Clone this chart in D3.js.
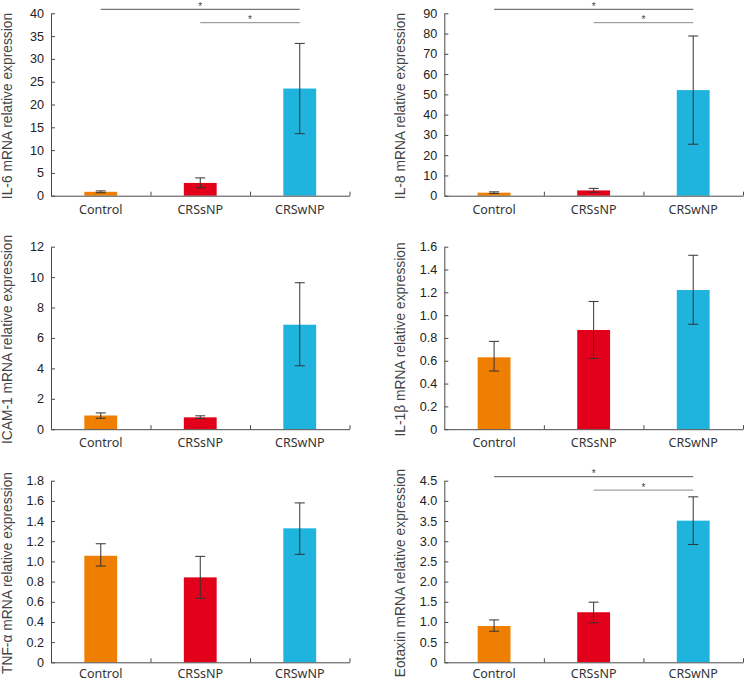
<!DOCTYPE html>
<html>
<head>
<meta charset="utf-8">
<script src="https://cdn.jsdelivr.net/npm/d3@7/dist/d3.min.js"></script>
<style>
  body { margin: 0; background: #fff; }
  svg { display: block; }
</style>
</head>
<body>
<svg id="chart" width="745" height="682"></svg>
<script>
// ---------- DATA ----------
const categories = ["Control", "CRSsNP", "CRSwNP"];
const barColors = ["#EF7F00", "#E2001A", "#1FB4DE"];

const titles = [
  "IL-6 mRNA relative expression",
  "IL-8 mRNA relative expression",
  "ICAM-1 mRNA relative expression",
  "IL-1\u03B2 mRNA relative expression",
  "TNF-\u03B1 mRNA relative expression",
  "Eotaxin mRNA relative expression"
];

const il6Mean = [0.85, 2.8, 23.5];
const il6Lo   = [0.65, 1.75, 13.6];
const il6Hi   = [1.05, 3.9, 33.4];

const il8Mean = [1.5, 2.6, 52.1];
const il8Lo   = [1.1, 1.7, 25.4];
const il8Hi   = [1.9, 3.6, 78.8];

const icamMean = [0.9, 0.78, 6.87];
const icamLo   = [0.72, 0.7, 4.17];
const icamHi   = [1.07, 0.88, 9.63];

const il1bMean = [0.63, 0.87, 1.22];
const il1bLo   = [0.51, 0.62, 0.92];
const il1bHi   = [0.77, 1.12, 1.525];

const tnfMean = [1.056, 0.842, 1.328];
const tnfLo   = [0.954, 0.634, 1.07];
const tnfHi   = [1.175, 1.05, 1.58];

const eotMean = [0.9, 1.24, 3.51];
const eotLo   = [0.77, 0.98, 2.92];
const eotHi   = [1.05, 1.49, 4.10];

const il6Ticks  = [0, 5, 10, 15, 20, 25, 30, 35, 40];
const il8Ticks  = [0, 10, 20, 30, 40, 50, 60, 70, 80, 90];
const icamTicks = [0, 2, 4, 6, 8, 10, 12];
const il1bTicks = [0, 0.2, 0.4, 0.6, 0.8, 1.0, 1.2, 1.4, 1.6];
const tnfTicks  = [0, 0.2, 0.4, 0.6, 0.8, 1.0, 1.2, 1.4, 1.6, 1.8];
const eotTicks  = [0, 0.5, 1.0, 1.5, 2.0, 2.5, 3.0, 3.5, 4.0, 4.5];

// significance brackets: [fromIndex, toIndex]
const il6Sig = [[0, 2], [1, 2]];
const il8Sig = [[0, 2], [1, 2]];
const eotSig = [[0, 2], [1, 2]];

// ---------- LAYOUT ----------
const cols = [[51, 349.5], [444.3, 743]];
const rows = [[13.3, 195.7], [246.7, 429.2], [480.7, 662.3]];
const labelPad = [9, 9, 7];

const panels = [
  { t: titles[0], m: il6Mean, lo: il6Lo, hi: il6Hi, ticks: il6Ticks, dec: 0, sig: il6Sig, c: 0, r: 0 },
  { t: titles[1], m: il8Mean, lo: il8Lo, hi: il8Hi, ticks: il8Ticks, dec: 0, sig: il8Sig, c: 1, r: 0 },
  { t: titles[2], m: icamMean, lo: icamLo, hi: icamHi, ticks: icamTicks, dec: 0, sig: [], c: 0, r: 1 },
  { t: titles[3], m: il1bMean, lo: il1bLo, hi: il1bHi, ticks: il1bTicks, dec: 1, sig: [], c: 1, r: 1 },
  { t: titles[4], m: tnfMean, lo: tnfLo, hi: tnfHi, ticks: tnfTicks, dec: 1, sig: [], c: 0, r: 2 },
  { t: titles[5], m: eotMean, lo: eotLo, hi: eotHi, ticks: eotTicks, dec: 1, sig: eotSig, c: 1, r: 2 }
];

const svg = d3.select("#chart");
const axisColor = "#4a4a4a";

panels.forEach(p => {
  const [x0, x1] = cols[p.c];
  const [yTop, yBot] = rows[p.r];
  const g = svg.append("g");

  const x = d3.scaleBand().domain(categories).range([x0, x1]).padding(0);
  const xl = d3.scaleLinear().domain([0, categories.length]).range([x0, x1]);
  const y = d3.scaleLinear().domain([0, p.ticks[p.ticks.length - 1]]).range([yBot, yTop]);
  const fmt = d => d === 0 ? "0" : d3.format("." + p.dec + "f")(d);

  // bars
  const bw = x.bandwidth() * 0.33;
  g.selectAll("rect.bar").data(categories).enter().append("rect")
    .attr("x", d => x(d) + x.bandwidth() / 2 - bw / 2)
    .attr("y", (d, i) => y(p.m[i]))
    .attr("width", bw)
    .attr("height", (d, i) => y(0) - y(p.m[i]))
    .attr("fill", (d, i) => barColors[i]);

  // error bars
  const cap = 5;
  categories.forEach((d, i) => {
    const cx = x(d) + x.bandwidth() / 2;
    const eg = g.append("g").attr("stroke", "#333").attr("stroke-width", 1);
    eg.append("line").attr("x1", cx).attr("x2", cx).attr("y1", y(p.lo[i])).attr("y2", y(p.hi[i]));
    eg.append("line").attr("x1", cx - cap).attr("x2", cx + cap).attr("y1", y(p.hi[i])).attr("y2", y(p.hi[i]));
    eg.append("line").attr("x1", cx - cap).attr("x2", cx + cap).attr("y1", y(p.lo[i])).attr("y2", y(p.lo[i]));
  });

  // y axis
  const ya = g.append("g").attr("transform", `translate(${x0},0)`)
    .call(d3.axisLeft(y).tickValues(p.ticks).tickFormat(fmt).tickSizeInner(-4).tickSizeOuter(0).tickPadding(7));
  ya.selectAll("path, line").attr("stroke", axisColor);
  ya.selectAll("text").attr("font-family", "'Liberation Sans', Arial, sans-serif")
    .attr("font-size", "12.6px").attr("fill", "#222");

  // x axis line + ticks at band boundaries
  const xa = g.append("g").attr("transform", `translate(0,${yBot})`)
    .call(d3.axisBottom(xl).tickValues(d3.range(1, categories.length + 1)).tickFormat("").tickSizeInner(-4).tickSizeOuter(0));
  xa.selectAll("path, line").attr("stroke", axisColor);

  // x labels
  const xlb = g.append("g").attr("transform", `translate(0,${yBot})`)
    .call(d3.axisBottom(x).tickSize(0).tickPadding(labelPad[p.r]));
  xlb.select(".domain").remove();
  xlb.selectAll("text").attr("font-family", "'Noto Sans', 'Open Sans', sans-serif")
    .attr("font-size", "12.5px").attr("fill", "#333");

  // y title
  const tx = x0 - 39;
  g.append("text")
    .attr("transform", `translate(${tx},${(yTop + yBot) / 2 + 1.5}) rotate(-90)`)
    .attr("text-anchor", "middle")
    .attr("font-family", "'Liberation Sans', Arial, sans-serif")
    .attr("font-size", "13.8px")
    .attr("fill", "#444")
    .text(p.t);

  // significance brackets
  p.sig.forEach((s, k) => {
    const ly = yTop + (k === 0 ? -4 : 9.4);
    const xa0 = x(categories[s[0]]) + x.bandwidth() / 2;
    const xa1 = x(categories[s[1]]) + x.bandwidth() / 2;
    g.append("line").attr("x1", xa0).attr("x2", xa1).attr("y1", ly).attr("y2", ly)
      .attr("stroke", k === 0 ? "#555" : "#888").attr("stroke-width", 1);
    g.append("text").attr("x", (xa0 + xa1) / 2).attr("y", ly + 0.5)
      .attr("text-anchor", "middle")
      .attr("font-family", "'Liberation Sans', Arial, sans-serif")
      .attr("font-size", "10px").attr("fill", "#444").text("*");
  });
});
</script>
</body>
</html>
